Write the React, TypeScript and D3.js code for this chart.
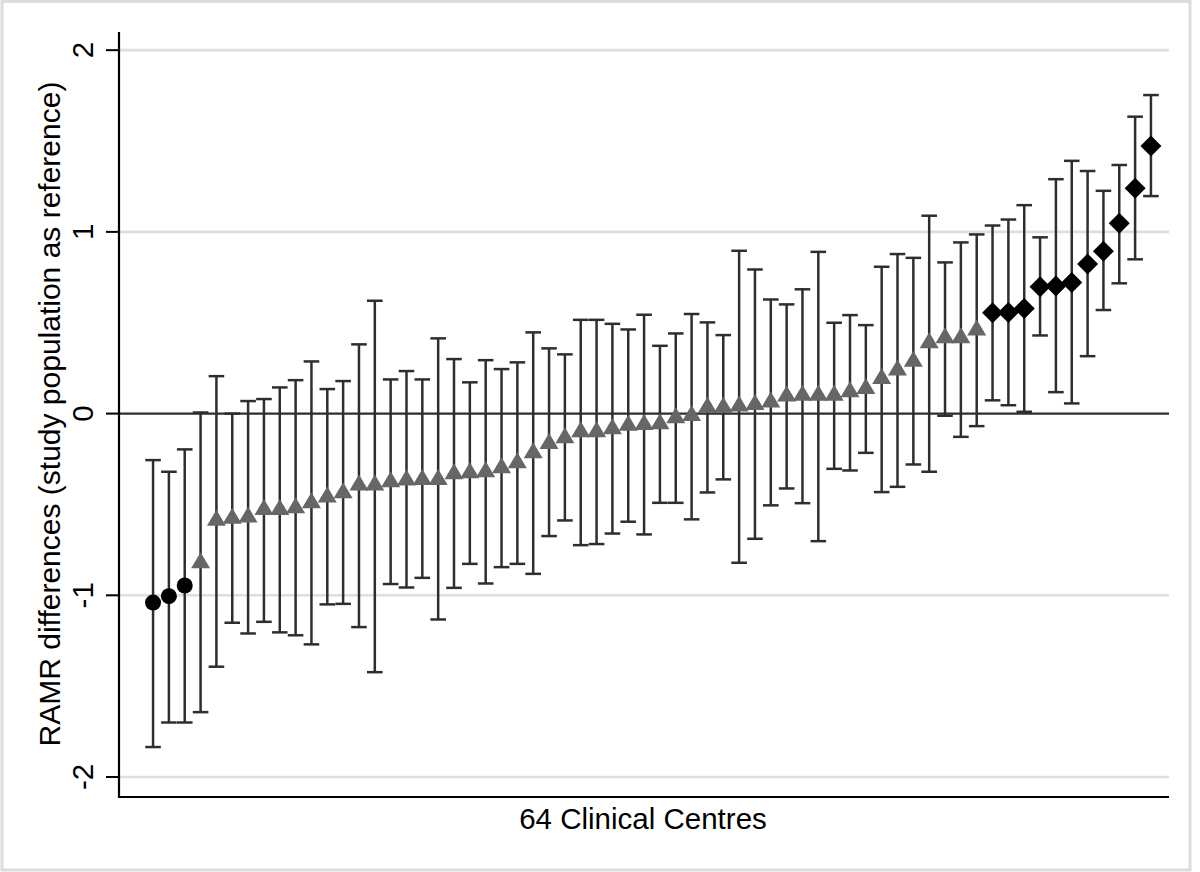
import React from "react";
import * as d3 from "d3";

// RAMR difference per centre (point estimate), sorted ascending
const estimates = [
  -1.04, -1.005, -0.946, -0.815, -0.582, -0.571, -0.564, -0.522, -0.522, -0.513,
  -0.485, -0.454, -0.43, -0.388, -0.388, -0.37, -0.36, -0.357, -0.357, -0.326,
  -0.32, -0.315, -0.293, -0.265, -0.21, -0.159, -0.128, -0.095, -0.095, -0.078,
  -0.058, -0.054, -0.05, -0.018, -0.005, 0.04, 0.04, 0.047, 0.056, 0.069,
  0.102, 0.106, 0.107, 0.107, 0.126, 0.144, 0.199, 0.245, 0.294, 0.395,
  0.423, 0.423, 0.465, 0.555, 0.557, 0.579, 0.698, 0.702, 0.722, 0.823,
  0.894, 1.047, 1.24, 1.472,
];

// lower confidence limits
const lowers = [
  -1.835, -1.7, -1.7, -1.643, -1.393, -1.151, -1.21, -1.146, -1.204, -1.22,
  -1.27, -1.05, -1.047, -1.175, -1.423, -0.938, -0.957, -0.904, -1.133, -0.959,
  -0.827, -0.935, -0.845, -0.827, -0.882, -0.674, -0.588, -0.724, -0.718, -0.66,
  -0.595, -0.665, -0.491, -0.491, -0.582, -0.434, -0.362, -0.821, -0.689, -0.505,
  -0.412, -0.493, -0.702, -0.304, -0.313, -0.216, -0.432, -0.403, -0.28, -0.32,
  -0.012, -0.128, -0.069, 0.073, 0.046, 0.01, 0.43, 0.118, 0.056, 0.316,
  0.57, 0.717, 0.849, 1.197,
];

// upper confidence limits
const uppers = [
  -0.256, -0.32, -0.197, 0.006, 0.206, 0.0, 0.069, 0.08, 0.144, 0.184,
  0.287, 0.135, 0.179, 0.381, 0.621, 0.188, 0.234, 0.188, 0.414, 0.3,
  0.172, 0.294, 0.245, 0.282, 0.447, 0.359, 0.326, 0.516, 0.516, 0.494,
  0.463, 0.544, 0.373, 0.441, 0.548, 0.502, 0.432, 0.896, 0.793, 0.628,
  0.601, 0.684, 0.89, 0.5, 0.542, 0.487, 0.808, 0.878, 0.857, 1.089,
  0.832, 0.942, 0.986, 1.035, 1.068, 1.147, 0.97, 1.29, 1.391, 1.335,
  1.226, 1.368, 1.634, 1.753,
];

// marker group: 3 low outliers, 50 within range, 11 high outliers
const groupSizes = [3, 50, 11];
const groupNames = ["low", "mid", "high"];
const yTicks = [-2, -1, 1, 2];

const FONT = "'Liberation Sans', Arial, Helvetica, sans-serif";

export default function App() {
  const groups: string[] = [];
  groupSizes.forEach((n, g) => {
    for (let k = 0; k < n; k++) groups.push(groupNames[g]);
  });

  const left = 119;
  const right = 1169;
  const top = 32;
  const bottom = 797;

  const x = d3.scaleLinear().domain([-1.15, 65.14]).range([left, right]);
  const y = d3.scaleLinear().domain([-2.11, 2.1]).range([bottom, top]);

  const capW = 7.8;
  const barColor = "#2e2e2e";

  const marker = (g: string, cx: number, cy: number, i: number) => {
    if (g === "low") return <circle key={"m" + i} cx={cx} cy={cy} r={8} fill="#000" />;
    if (g === "high") {
      const s = 10.5;
      return (
        <polygon
          key={"m" + i}
          points={`${cx},${cy - s} ${cx + s},${cy} ${cx},${cy + s} ${cx - s},${cy}`}
          fill="#000"
        />
      );
    }
    return (
      <polygon
        key={"m" + i}
        points={`${cx},${cy - 9.5} ${cx + 9.5},${cy + 6.5} ${cx - 9.5},${cy + 6.5}`}
        fill="#666666"
      />
    );
  };

  return (
    <svg
      width={1200}
      height={872}
      style={{ position: "absolute", left: 0, top: 0, background: "#fff" }}
      fontFamily={FONT}
    >
      <rect x={0} y={0} width={1200} height={872} fill="#fff" />
      <rect x={2} y={1.5} width={1188} height={868.5} fill="none" stroke="#dcdcdc" strokeWidth={3} />

      {/* gridlines */}
      {yTicks.map(t => (
        <line key={"g" + t} x1={left} x2={right} y1={y(t)} y2={y(t)} stroke="#dedede" strokeWidth={2.6} />
      ))}
      {/* reference line at 0 */}
      <line x1={left} x2={right} y1={y(0)} y2={y(0)} stroke={barColor} strokeWidth={2.4} />

      {/* error bars */}
      {estimates.map((_, i) => {
        const cx = x(i + 1);
        return (
          <g key={"e" + i} stroke={barColor} strokeWidth={2.5}>
            <line x1={cx} x2={cx} y1={y(lowers[i])} y2={y(uppers[i])} />
            <line x1={cx - capW} x2={cx + capW} y1={y(uppers[i])} y2={y(uppers[i])} />
            <line x1={cx - capW} x2={cx + capW} y1={y(lowers[i])} y2={y(lowers[i])} />
          </g>
        );
      })}

      {/* markers */}
      {estimates.map((v, i) => marker(groups[i], x(i + 1), y(v), i))}

      {/* axes */}
      <line x1={left} x2={left} y1={top} y2={bottom + 1} stroke="#000" strokeWidth={2.2} />
      <line x1={left - 1} x2={right} y1={bottom} y2={bottom} stroke="#000" strokeWidth={2.2} />
      {[-2, -1, 0, 1, 2].map(t => (
        <g key={"t" + t}>
          <line x1={106} x2={left} y1={y(t)} y2={y(t)} stroke="#000" strokeWidth={2} />
          <text
            transform={`translate(93,${y(t)}) rotate(-90)`}
            textAnchor="middle"
            fontSize={29.5}
            fill="#000"
          >
            {t}
          </text>
        </g>
      ))}

      {/* axis titles */}
      <text
        transform={`translate(59.5,414) rotate(-90)`}
        textAnchor="middle"
        fontSize={30}
        fill="#000"
      >
        RAMR differences (study population as reference)
      </text>
      <text x={643} y={829} textAnchor="middle" fontSize={29.5} fill="#000">
        64 Clinical Centres
      </text>
    </svg>
  );
}
